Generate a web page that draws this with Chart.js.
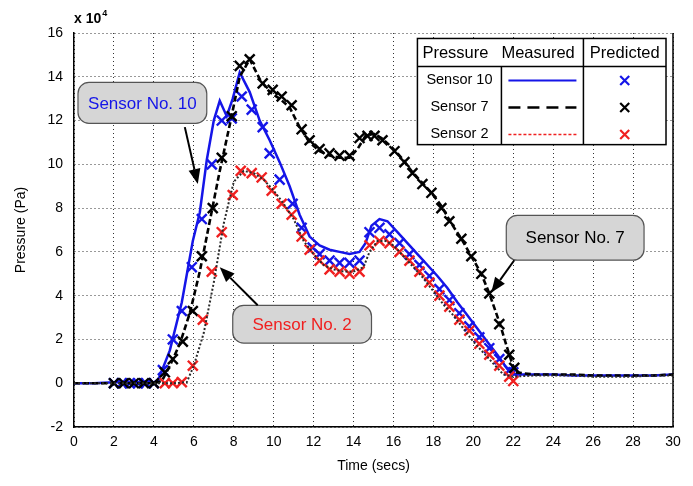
<!DOCTYPE html>
<html><head><meta charset="utf-8">
<script src="https://cdn.jsdelivr.net/npm/chart.js@4.4.1/dist/chart.umd.min.js"></script>
<style>html,body{margin:0;padding:0;background:#fff;}#wrap{width:693px;height:486px;}</style>
</head><body><div id="wrap"><canvas id="c" width="693" height="486"></canvas></div>
<script>
// Pressure values in units of 1e4 Pa, time in seconds
const s10MeasT = [0,1,2,3,4,4.2,4.8,5.4,5.95,6.3,6.65,7.0,7.3,7.65,7.95,8.3,8.8,9.3,9.8,10.3,10.8,11.3,11.8,12.3,12.8,13.3,13.8,14.3,14.6,14.9,15.3,15.7,16.2,16.7,17.2,17.7,18.2,18.7,19.2,19.7,20.2,20.7,21.2,21.7,22,23,24,25,26,27,28,29,30];
const s10MeasP = [0,0,0.05,0.05,0.05,0.1,1.5,3.7,6.5,7.8,10.2,12.0,12.9,12.2,13.0,14.2,13.3,12.0,11.1,10.1,9.0,7.7,6.7,6.3,6.1,6.0,5.9,6.0,6.4,7.2,7.5,7.4,6.9,6.4,5.9,5.4,4.9,4.35,3.7,3.1,2.5,1.9,1.3,0.65,0.4,0.4,0.4,0.35,0.35,0.35,0.35,0.35,0.4];
const s10PredT = [2.0,2.4,2.8,3.2,3.6,4.0,4.45,4.95,5.4,5.9,6.4,6.9,7.4,7.9,8.4,8.9,9.45,9.8,10.3,10.95,11.4,11.95,12.3,12.8,13.3,13.8,14.3,14.8,15.3,15.8,16.3,16.8,17.3,17.8,18.3,18.8,19.3,19.8,20.3,20.8,21.3,21.8,22.0];
const s10PredP = [0,0,0,0,0,0,0.6,2.0,3.3,5.3,7.5,10.0,12.0,12.1,13.1,12.5,11.7,10.5,9.3,8.2,7.1,6.2,5.9,5.6,5.5,5.5,5.6,6.9,7.1,6.8,6.4,5.9,5.4,4.9,4.3,3.8,3.2,2.6,2.1,1.6,1.1,0.6,0.5];
const s7MeasT = [0,2,4,4.4,4.8,5.3,5.8,6.3,6.8,7.3,7.8,8.3,8.8,9.3,9.8,10.3,10.8,11.3,11.8,12.3,12.8,13.3,13.8,14.2,14.6,15.0,15.4,15.9,16.4,16.9,17.4,17.9,18.4,18.9,19.4,19.9,20.4,20.8,21.3,21.8,22.1,23,24,25,26,27,28,29,30];
const s7MeasP = [0,0,0,0.1,0.8,1.8,3.2,5.1,7.4,9.7,11.8,14.0,14.8,13.9,13.3,13.0,12.6,11.7,11.0,10.6,10.4,10.3,10.3,10.7,11.3,11.4,11.2,10.8,10.3,9.7,9.2,8.7,8.1,7.3,6.6,5.8,5.0,4.1,2.8,1.3,0.5,0.4,0.4,0.4,0.35,0.35,0.35,0.35,0.4];
const s7PredT = [2.0,2.5,3.0,3.5,4.0,4.55,4.95,5.45,5.95,6.4,6.95,7.4,7.9,8.3,8.8,9.45,9.95,10.4,10.9,11.4,11.8,12.3,12.8,13.3,13.8,14.3,14.7,15.05,15.45,16.05,16.55,16.95,17.45,17.9,18.4,18.8,19.4,19.9,20.4,20.8,21.3,21.8,22.05];
const s7PredP = [0,0,0,0,0,0.5,1.1,1.9,3.3,5.8,8.0,10.3,12.2,14.5,14.8,13.7,13.4,13.1,12.7,11.6,11.1,10.7,10.5,10.4,10.4,11.2,11.3,11.3,11.1,10.6,10.1,9.6,9.1,8.7,8.0,7.4,6.6,5.8,5.0,4.1,2.7,1.3,0.7];
const s2MeasT = [0,2,4,5.0,5.65,6.0,6.5,7.0,7.5,8.0,8.5,9.0,9.5,10.0,10.5,11.0,11.5,12.0,12.5,13.0,13.5,14.0,14.5,14.8,15.2,15.6,16.0,16.5,17,17.5,18,18.5,19,19.5,20,20.5,21,21.5,22,23,24,25,26,27,28,29,30];
const s2MeasP = [0,0,0,0,0.05,0.8,2.3,4.6,7.3,9.2,9.7,9.6,9.3,8.8,8.2,7.5,6.5,5.9,5.4,5.2,5.1,5.1,5.3,6.0,6.5,6.5,6.3,5.8,5.3,4.8,4.2,3.6,3.1,2.5,1.9,1.4,0.9,0.4,0.3,0.35,0.35,0.35,0.3,0.3,0.3,0.35,0.35];
const s2PredT = [4.55,4.95,5.4,5.95,6.45,6.9,7.4,7.95,8.35,8.9,9.4,9.9,10.4,10.9,11.4,11.8,12.3,12.8,13.3,13.8,14.3,14.8,15.3,15.8,16.3,16.8,17.3,17.8,18.3,18.8,19.3,19.8,20.3,20.8,21.3,21.8,22.0];
const s2PredP = [0,0,0.05,0.8,2.9,5.1,6.9,8.6,9.7,9.6,9.4,8.8,8.2,7.7,6.7,6.1,5.6,5.2,5.1,5.0,5.1,6.3,6.5,6.4,6.0,5.6,5.1,4.6,4.0,3.5,2.9,2.4,1.8,1.3,0.8,0.3,0.1];
const xTicks = [0,2,4,6,8,10,12,14,16,18,20,22,24,26,28,30];
const yTicks = [-2,0,2,4,6,8,10,12,14,16];
const legendRows = ['Sensor 10','Sensor 7','Sensor 2'];
const legendHeader = ['Pressure','Measured','Predicted'];

const BLUE = '#1515e8', RED = '#f02020', BLACK = '#000000', DOT = '#2a2a2a';
const FONT = '"Liberation Sans", Arial, Helvetica, sans-serif';
const pts = (t, p) => t.map((v, i) => ({x: v, y: p[i]}));

function roundRect(ctx, x, y, w, h, r) {
  ctx.beginPath();
  ctx.moveTo(x + r, y);
  ctx.arcTo(x + w, y, x + w, y + h, r);
  ctx.arcTo(x + w, y + h, x, y + h, r);
  ctx.arcTo(x, y + h, x, y, r);
  ctx.arcTo(x, y, x + w, y, r);
  ctx.closePath();
}
function arrow(ctx, x1, y1, x2, y2) {
  const a = Math.atan2(y2 - y1, x2 - x1), L = 15, W = 6;
  const bx = x2 - L * Math.cos(a), by = y2 - L * Math.sin(a);
  ctx.strokeStyle = '#000'; ctx.fillStyle = '#000'; ctx.lineWidth = 2;
  ctx.beginPath(); ctx.moveTo(x1, y1); ctx.lineTo(bx, by); ctx.stroke();
  ctx.beginPath(); ctx.moveTo(x2, y2);
  ctx.lineTo(bx + W * Math.sin(a), by - W * Math.cos(a));
  ctx.lineTo(bx - W * Math.sin(a), by + W * Math.cos(a));
  ctx.closePath(); ctx.fill();
}
function drawX(ctx, cx, cy, r, color) {
  ctx.strokeStyle = color; ctx.lineWidth = 2.2;
  ctx.beginPath(); ctx.moveTo(cx - r, cy - r); ctx.lineTo(cx + r, cy + r);
  ctx.moveTo(cx + r, cy - r); ctx.lineTo(cx - r, cy + r); ctx.stroke();
}

// callouts in data coordinates: box [x0,x1,yTop,yBot], arrow [fromX,fromY,toX,toY]
const callouts = [
  {text: 'Sensor No. 10', color: BLUE, box: [0.2, 6.65, 13.74, 11.87], arr: [5.55, 11.7, 6.2, 9.1]},
  {text: 'Sensor No. 2', color: RED, box: [7.95, 14.9, 3.56, 1.83], arr: [9.2, 3.56, 7.3, 5.3]},
  {text: 'Sensor No. 7', color: BLACK, box: [21.65, 28.55, 7.67, 5.62], arr: [22.05, 5.62, 20.9, 4.15]}
];

const overlay = {
  id: 'overlay',
  afterDraw(chart) {
    const ctx = chart.ctx, xs = chart.scales.x, ys = chart.scales.y, ca = chart.chartArea;
    ctx.save();
    ctx.strokeStyle = '#000'; ctx.lineWidth = 1.5; ctx.setLineDash([]);
    ctx.beginPath(); ctx.moveTo(ca.right, ca.top); ctx.lineTo(ca.right, ca.bottom); ctx.stroke();
    ctx.fillStyle = '#000'; ctx.textBaseline = 'alphabetic'; ctx.textAlign = 'left';
    ctx.font = 'bold 14px ' + FONT;
    ctx.fillText('x 10', ca.left, ca.top - 10);
    const w = ctx.measureText('x 10').width;
    ctx.font = 'bold 9px ' + FONT;
    ctx.fillText('4', ca.left + w + 1, ca.top - 17);
    callouts.forEach(c => {
      const x0 = xs.getPixelForValue(c.box[0]), x1 = xs.getPixelForValue(c.box[1]);
      const y0 = ys.getPixelForValue(c.box[2]), y1 = ys.getPixelForValue(c.box[3]);
      roundRect(ctx, x0, y0, x1 - x0, y1 - y0, 11);
      ctx.fillStyle = '#d6d6d6'; ctx.fill();
      ctx.strokeStyle = '#555'; ctx.lineWidth = 1.2; ctx.stroke();
      ctx.fillStyle = c.color; ctx.font = '17px ' + FONT;
      ctx.textAlign = 'center'; ctx.textBaseline = 'middle';
      ctx.fillText(c.text, (x0 + x1) / 2, (y0 + y1) / 2 + 1);
      arrow(ctx, xs.getPixelForValue(c.arr[0]), ys.getPixelForValue(c.arr[1]),
                 xs.getPixelForValue(c.arr[2]), ys.getPixelForValue(c.arr[3]));
    });
    const L = xs.getPixelForValue(17.2), R = xs.getPixelForValue(29.65);
    const T = ys.getPixelForValue(15.75), B = ys.getPixelForValue(10.9);
    const hdrB = T + 28, c1 = L + 84, c2 = L + 166;
    ctx.fillStyle = '#fff'; ctx.fillRect(L, T, R - L, B - T);
    ctx.strokeStyle = '#000'; ctx.lineWidth = 1.5;
    ctx.strokeRect(L, T, R - L, B - T);
    ctx.beginPath();
    ctx.moveTo(L, hdrB); ctx.lineTo(R, hdrB);
    ctx.moveTo(c2, T); ctx.lineTo(c2, B);
    ctx.moveTo(c1, hdrB); ctx.lineTo(c1, B);
    ctx.stroke();
    ctx.fillStyle = '#000'; ctx.font = '16.5px ' + FONT; ctx.textBaseline = 'middle';
    ctx.textAlign = 'left';
    ctx.fillText(legendHeader[0], L + 5, T + 15);
    ctx.fillText(legendHeader[1], c1, T + 15);
    ctx.textAlign = 'center';
    ctx.fillText(legendHeader[2], (c2 + R) / 2, T + 15);
    const rowY = [hdrB + 14, hdrB + 41, hdrB + 68];
    const cols = [BLUE, BLACK, RED];
    const dashes = [[], [12, 7], [3, 2]];
    const widths = [2, 2.5, 1.5];
    ctx.font = '14.5px ' + FONT;
    legendRows.forEach((lab, i) => {
      ctx.fillStyle = '#000'; ctx.textAlign = 'center';
      ctx.fillText(lab, (L + c1) / 2, rowY[i]);
      ctx.strokeStyle = cols[i]; ctx.lineWidth = widths[i]; ctx.setLineDash(dashes[i]);
      ctx.beginPath(); ctx.moveTo(c1 + 7, rowY[i]); ctx.lineTo(c2 - 7, rowY[i]); ctx.stroke();
      ctx.setLineDash([]);
      drawX(ctx, (c2 + R) / 2, rowY[i], 4.5, cols[i]);
    });
    ctx.restore();
  }
};

const markerDs = (label, t, p, color) => ({
  label, data: pts(t, p), showLine: false, pointStyle: 'crossRot',
  pointRadius: 7, pointHoverRadius: 7, pointBorderWidth: 2.4,
  pointBorderColor: color, pointBackgroundColor: color, borderColor: color
});
const lineDs = (label, t, p, color, dash, width) => ({
  label, data: pts(t, p), borderColor: color, borderWidth: width, borderDash: dash,
  pointRadius: 0, fill: false, tension: 0
});

new Chart(document.getElementById('c'), {
  type: 'line',
  data: {
    datasets: [
      lineDs('Sensor 2 measured', s2MeasT, s2MeasP, DOT, [2, 2], 2),
      markerDs('Sensor 2 predicted', s2PredT, s2PredP, RED),
      lineDs('Sensor 7 measured', s7MeasT, s7MeasP, BLACK, [6, 3], 2.6),
      markerDs('Sensor 7 predicted', s7PredT, s7PredP, BLACK),
      lineDs('Sensor 10 measured', s10MeasT, s10MeasP, BLUE, [], 2.5),
      markerDs('Sensor 10 predicted', s10PredT, s10PredP, BLUE)
    ]
  },
  options: {
    responsive: false, animation: false, devicePixelRatio: 1,
    layout: {padding: {left: 0, top: 33, right: 20, bottom: 0}},
    plugins: {legend: {display: false}, tooltip: {enabled: false}},
    scales: {
      x: {
        type: 'linear', min: 0, max: 30,
        afterBuildTicks: s => { s.ticks = xTicks.map(v => ({value: v})); },
        afterFit: s => { s.height = 59; },
        ticks: {color: '#000', font: {family: FONT, size: 14}, padding: 7, maxRotation: 0},
        grid: {color: '#333', lineWidth: 1, drawTicks: false},
        border: {display: true, color: '#000', width: 1.5, dash: [1, 3]},
        title: {display: true, text: 'Time (secs)', color: '#000', font: {family: FONT, size: 14}, padding: {top: 0, bottom: 11}}
      },
      y: {
        type: 'linear', min: -2, max: 16,
        afterBuildTicks: s => { s.ticks = yTicks.map(v => ({value: v})); },
        afterFit: s => { s.width = 74; },
        ticks: {color: '#000', font: {family: FONT, size: 14}, padding: 11},
        grid: {color: '#333', lineWidth: 1, drawTicks: false},
        border: {display: true, color: '#000', width: 1.5, dash: [1, 3]},
        title: {display: true, text: 'Pressure (Pa)', color: '#000', font: {family: FONT, size: 14}, padding: {top: 13, bottom: 0}}
      }
    }
  },
  plugins: [overlay]
});
</script></body></html>
